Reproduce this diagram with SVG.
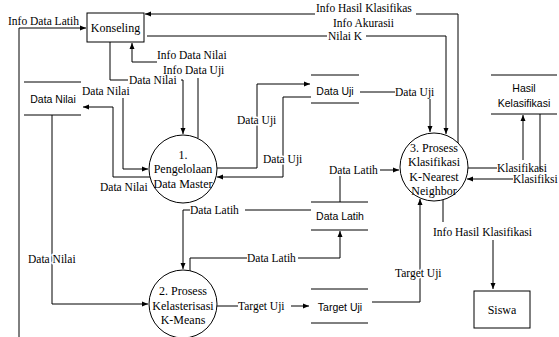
<svg xmlns="http://www.w3.org/2000/svg" width="559" height="337" viewBox="0 0 559 337">
<style>
.ln{fill:none;stroke:#000;stroke-width:1}
.ar{marker-end:url(#ah)}
.lbl{font-family:"Liberation Serif","Times New Roman",serif;font-size:11.5px;fill:#000}
.halo{stroke:#fff;stroke-width:3;paint-order:stroke;stroke-linejoin:round}
.proc{fill:#fff;stroke:#000;stroke-width:1}
.ptx{font-family:"Liberation Serif","Times New Roman",serif;font-size:12px;fill:#000;text-anchor:middle}
.stx{font-family:"Liberation Sans",Arial,sans-serif;font-size:10.5px;fill:#000;text-anchor:middle}
.st{stroke:#000;stroke-width:1}
</style>
<defs>
<marker id="ah" markerWidth="6" markerHeight="6" refX="6" refY="3" orient="auto" markerUnits="userSpaceOnUse">
<path d="M0,0.5 L6,3 L0,5.5 z" fill="#000"/>
</marker>
</defs>
<rect width="559" height="337" fill="#fff"/>

<g id="connectors">
<path class="ln ar" d="M19,337 V28 H86"/>
<path class="ln" d="M458,143 V14 H416"/>
<path class="ln ar" d="M315,14 H145"/>
<path class="ln" d="M147,36 H327"/>
<path class="ln ar" d="M366,36 H446 V134"/>
<path class="ln" d="M110,42 V80 H128"/>
<path class="ln ar" d="M181,80 H183 V134"/>
<path class="ln" d="M198,138 V78"/>
<path class="ln ar" d="M157,62 H132 V43"/>
<path class="ln ar" d="M123,98 V169 H148"/>
<path class="ln ar" d="M150,177 H113 V107 H83"/>
<path class="ln ar" d="M217,168 H257 V84 H310"/>
<path class="ln ar" d="M311,97 H283 V177 H217"/>
<path class="ln" d="M360,92 H395"/>
<path class="ln ar" d="M430,99 V132"/>
<path class="ln" d="M340,202 V176"/>
<path class="ln ar" d="M380,170 H399"/>
<path class="ln" d="M311,210 H245"/>
<path class="ln ar" d="M190,210 H183 V269"/>
<path class="ln" d="M190,271 V258 H247"/>
<path class="ln ar" d="M298,258 H340 V231"/>
<path class="ln ar" d="M52,115 V304 H148"/>
<path class="ln" d="M217,306 H238"/>
<path class="ln ar" d="M291,306 H309"/>
<path class="ln ar" d="M372,302 H420 V199"/>
<path class="ln" d="M443,200 V222"/>
<path class="ln ar" d="M493,240 V289"/>
<path class="ln" d="M468,168 H497"/>
<path class="ln ar" d="M523,160 V115"/>
<path class="ln" d="M540,114 V171"/>
<path class="ln ar" d="M513,179 H467"/>

<text class="lbl" x="8" y="25">Info Data Latih</text>
<text class="lbl" x="316" y="12">Info Hasil Klasifikas</text>
<text class="lbl" x="333" y="27">Info Akurasii</text>
<text class="lbl" x="328" y="40">Nilai K</text>
<text class="lbl" x="129" y="84">Data Nilai</text>
<text class="lbl" x="157" y="59">Info Data Nilai</text>
<text class="lbl" x="163" y="74">Info Data Uji</text>
<text class="lbl" x="82" y="95">Data Nilai</text>
<text class="lbl" x="100" y="191">Data Nilai</text>
<text class="lbl halo" x="237" y="124">Data Uji</text>
<text class="lbl halo" x="263" y="163">Data Uji</text>
<text class="lbl" x="395" y="96">Data Uji</text>
<text class="lbl" x="329" y="174">Data Latih</text>
<text class="lbl" x="190" y="214">Data Latih</text>
<text class="lbl" x="247" y="262">Data Latih</text>
<text class="lbl halo" x="28" y="263">Data Nilai</text>
<text class="lbl" x="238" y="310">Target Uji</text>
<text class="lbl halo" x="395" y="277">Target Uji</text>
<text class="lbl" x="433" y="236">Info Hasil Klasifikasi</text>
<text class="lbl" x="497" y="172">Klasifikasi</text>
<text class="lbl" x="513" y="183">Klasifiksi</text>
</g>

<g id="konseling">
<rect class="proc" x="87" y="13" width="57" height="29"/>
<text class="ptx" x="115.5" y="32">Konseling</text>
</g>

<g id="siswa">
<rect class="proc" x="474" y="291" width="56" height="37"/>
<text class="ptx" x="502" y="314">Siswa</text>
</g>

<g id="proses1">
<circle class="proc" cx="183" cy="169" r="34"/>
<text class="ptx" x="183" y="159">1.</text>
<text class="ptx" x="183" y="173">Pengelolaan</text>
<text class="ptx" x="183" y="188">Data Master</text>
</g>

<g id="proses2">
<circle class="proc" cx="183" cy="304" r="34"/>
<text class="ptx" x="183" y="295">2. Prosess</text>
<text class="ptx" x="183" y="310">Kelasterisasi</text>
<text class="ptx" x="183" y="324">K-Means</text>
</g>

<g id="proses3">
<circle class="proc" cx="434" cy="167" r="34"/>
<text class="ptx" x="434" y="152">3. Prosess</text>
<text class="ptx" x="434" y="166">Klasifikasi</text>
<text class="ptx" x="434" y="181">K-Nearest</text>
<text class="ptx" x="434" y="195">Neighbor</text>
</g>

<g id="store-data-nilai">
<line class="st" x1="24" y1="82" x2="81" y2="82"/>
<line class="st" x1="24" y1="115" x2="81" y2="115"/>
<text class="stx" x="53" y="103">Data Nilai</text>
</g>

<g id="store-data-uji">
<line class="st" x1="311" y1="75" x2="359" y2="75"/>
<line class="st" x1="311" y1="103" x2="359" y2="103"/>
<text class="stx" x="335" y="95">Data Uji</text>
</g>

<g id="store-data-latih">
<line class="st" x1="311" y1="202" x2="368" y2="202"/>
<line class="st" x1="311" y1="230" x2="368" y2="230"/>
<text class="stx" x="340" y="220">Data Latih</text>
</g>

<g id="store-target-uji">
<line class="st" x1="311" y1="289" x2="368" y2="289"/>
<line class="st" x1="311" y1="323" x2="368" y2="323"/>
<text class="stx" x="340" y="311">Target Uji</text>
</g>

<g id="store-hasil">
<line class="st" x1="491" y1="75" x2="557" y2="75"/>
<line class="st" x1="491" y1="114" x2="557" y2="114"/>
<text class="stx" x="524" y="92">Hasil</text>
<text class="stx" x="524" y="107">Kelasifikasi</text>
</g>
</svg>
